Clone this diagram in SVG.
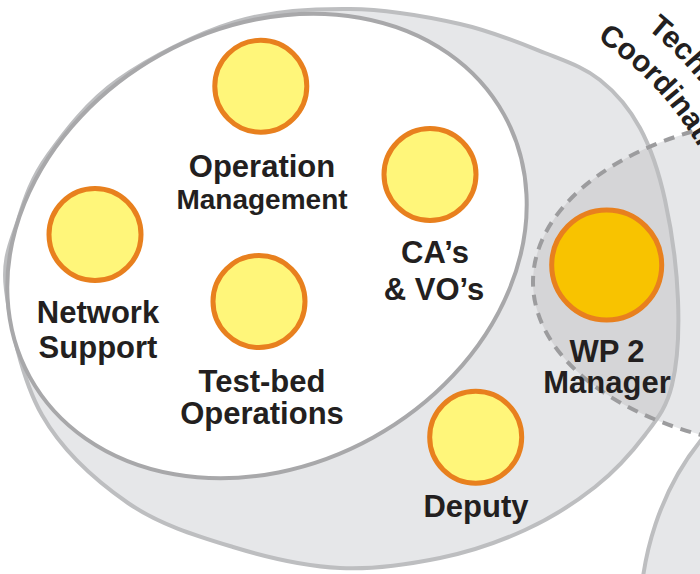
<svg xmlns="http://www.w3.org/2000/svg" width="700" height="574" viewBox="0 0 700 574">
<style>
.lbl{font-family:"Liberation Sans",Arial,Helvetica,sans-serif;font-weight:bold;font-size:31px;fill:#231f20;text-anchor:middle}
.sm{font-size:28px}
.arc{font-size:30px}
.node{fill:#fff67a;stroke:#e8801e;stroke-width:5}
.lead{fill:#f8c300;stroke:#e8801e;stroke-width:5}
.area{fill:#e6e7e9}
.edge{fill:none;stroke:#bdbec0;stroke-width:4}
.dash{fill:none;stroke:#9c9c9e;stroke-width:4;stroke-dasharray:11 8}
</style>
<defs>
<path id="wp2Shape" d="M6,290 C2,257.5 11,242.5 18,220 C25,197.5 31.3,178.3 48,155 C64.7,131.7 86.8,102.2 118,80 C149.2,57.8 196.3,33.8 235,22 C273.7,10.2 312.5,8.7 350,9 C387.5,9.3 427.5,16.7 460,24 C492.5,31.3 521.7,43.7 545,53 C568.3,62.3 584.2,67.5 600,80 C615.8,92.5 629.2,108 640,128 C650.8,148 658.7,171.3 665,200 C671.3,228.7 676.8,269.2 678,300 C679.2,330.8 677.5,362.5 672,385 C666.5,407.5 657.8,418 645,435 C632.2,452 615,471.2 595,487 C575,502.8 550.8,518.2 525,530 C499.2,541.8 470.8,551.7 440,558 C409.2,564.3 374.5,569.8 340,568 C305.5,566.2 268.3,557.8 233,547 C197.7,536.2 159.8,525 128,503 C96.2,481 62.3,450.5 42,415 C21.7,379.5 10,322.5 6,290 Z"/>
<clipPath id="wp2Clip"><use href="#wp2Shape"/></clipPath>
<ellipse id="techShape" cx="820" cy="282" rx="287" ry="168"/>
<path id="arcOuter" d="M544.1,-29.5 A357,357 0 0 1 773.6,244"/>
<path id="arcInner" d="M531.1,6.2 A319,319 0 0 1 736.2,250.6"/>
</defs>

<g id="next-area">
<ellipse class="area" cx="860" cy="620" rx="220" ry="260" stroke="#bdbec0" stroke-width="4"/>
</g>

<g id="technical-coordination">
<use href="#techShape" class="area"/>
<text class="lbl arc"><textPath href="#arcOuter" startOffset="50%">Technical</textPath></text>
<text class="lbl arc"><textPath href="#arcInner" startOffset="50%">Coordination</textPath></text>
</g>

<g id="wp2-area">
<use href="#wp2Shape" class="area"/>
<use href="#techShape" clip-path="url(#wp2Clip)" fill="#d5d5d7"/>
<use href="#wp2Shape" class="edge"/>
</g>

<g id="technical-coordination-border">
<use href="#techShape" class="dash"/>
</g>

<g id="operations-teams">
<ellipse cx="267" cy="246" rx="271" ry="219" transform="rotate(-29 267 246)" fill="#ffffff" stroke="#a8a8aa" stroke-width="4"/>
</g>

<g id="connectors"></g>

<g id="operation-management">
<circle class="node" cx="260.8" cy="86.3" r="46"/>
<text class="lbl" x="262" y="177">Operation</text>
<text class="lbl sm" x="262" y="209">Management</text>
</g>

<g id="network-support">
<circle class="node" cx="95" cy="234.5" r="46"/>
<text class="lbl" x="98" y="323">Network</text>
<text class="lbl" x="98" y="358">Support</text>
</g>

<g id="test-bed-operations">
<circle class="node" cx="259" cy="301.5" r="46"/>
<text class="lbl" x="262" y="392">Test-bed</text>
<text class="lbl" x="262" y="424">Operations</text>
</g>

<g id="cas-vos">
<circle class="node" cx="430" cy="174.5" r="46"/>
<text class="lbl" x="435" y="263">CA’s</text>
<text class="lbl" x="434" y="300">&amp; VO’s</text>
</g>

<g id="wp2-manager">
<circle class="lead" cx="606.7" cy="265" r="55"/>
<text class="lbl" x="607" y="362">WP 2</text>
<text class="lbl" x="607" y="393">Manager</text>
</g>

<g id="deputy">
<circle class="node" cx="475.7" cy="437.2" r="46"/>
<text class="lbl" x="476" y="517">Deputy</text>
</g>
</svg>
